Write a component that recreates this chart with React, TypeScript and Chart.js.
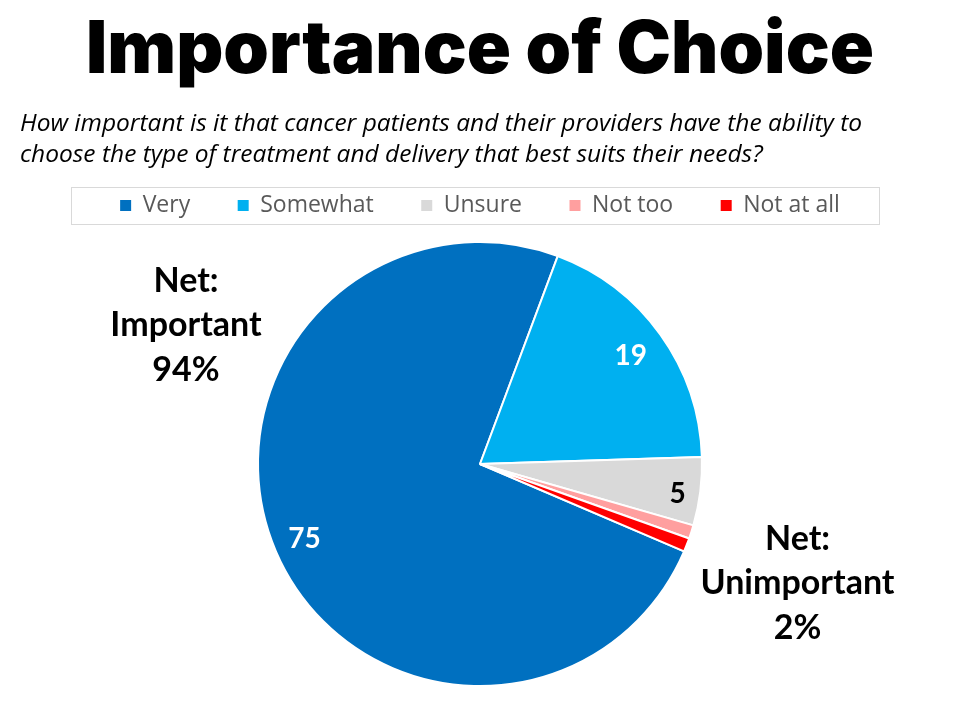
import { useEffect, useRef } from "react";
import { Chart, registerables } from "chart.js";

Chart.register(...registerables);

const categories = ["Very", "Somewhat", "Unsure", "Not too", "Not at all"];
const values = [75, 19, 5, 1, 1];
const sliceColors = ["#0070C0", "#00B0F0", "#D9D9D9", "#FF9F9F", "#FF0000"];
const valueLabelColors = ["#FFFFFF", "#FFFFFF", "#000000", "#000000", "#000000"];
const titleText = "Importance of Choice";
const subtitleLines = [
  "How important is it that cancer patients and their providers have the ability to",
  "choose the type of treatment and delivery that best suits their needs?",
];
const netImportantLines = ["Net:", "Important", "94%"];
const netUnimportantLines = ["Net:", "Unimportant", "2%"];
const minLabelledValue = 5;

const extrasPlugin = {
  id: "pieExtras",
  afterDraw(chart: any) {
    const ctx = chart.ctx;
    // border around legend
    const lg = chart.legend;
    if (lg && lg.legendHitBoxes && lg.legendHitBoxes.length) {
      const hb = lg.legendHitBoxes;
      const first = hb[0];
      const last = hb[hb.length - 1];
      const l = Math.round(first.left - 49);
      const r = Math.round(last.left + last.width + 39);
      const t = Math.round(first.top - 7);
      const b = Math.round(first.top + first.height + 7);
      ctx.save();
      ctx.strokeStyle = "#D9D9D9";
      ctx.lineWidth = 1;
      ctx.strokeRect(l + 0.5, t + 0.5, r - l, b - t);
      ctx.restore();
    }

    const meta = chart.getDatasetMeta(0);
    const radialPos = [0.86, 0.835, 0.9, 0.9, 0.9];
    const angularPos = [0.5, 0.5, 0.58, 0.5, 0.5];
    let cx = 0;
    let cy = 0;
    ctx.save();
    ctx.font = "bold 28px Lato";
    ctx.textAlign = "center";
    ctx.textBaseline = "middle";
    meta.data.forEach((arc: any, i: number) => {
      const p = arc.getProps(["x", "y", "startAngle", "endAngle", "outerRadius"], true);
      cx = p.x;
      cy = p.y;
      if (values[i] < minLabelledValue) return;
      const ang = p.startAngle + (p.endAngle - p.startAngle) * angularPos[i];
      const rr = p.outerRadius * radialPos[i];
      ctx.fillStyle = valueLabelColors[i];
      ctx.fillText(String(values[i]), p.x + Math.cos(ang) * rr, p.y + Math.sin(ang) * rr);
    });

    // net annotations
    ctx.font = "bold 34px Lato";
    ctx.fillStyle = "#000000";
    netImportantLines.forEach((line, i) => {
      ctx.fillText(line, cx - 294, cy - 183 + i * 44.3);
    });
    netUnimportantLines.forEach((line, i) => {
      ctx.fillText(line, cx + 317.5, cy + 75 + i * 44.5);
    });
    ctx.restore();
  },
};

export default function App() {
  const canvasRef = useRef<HTMLCanvasElement | null>(null);

  useEffect(() => {
    document.body.style.margin = "0";
    const canvas = canvasRef.current;
    if (!canvas) return;
    const baseGenerate = (Chart as any).overrides.pie.plugins.legend.labels.generateLabels;
    const chart = new Chart(canvas, {
      type: "pie",
      data: {
        labels: categories,
        datasets: [
          {
            data: values,
            backgroundColor: sliceColors,
            borderColor: "#FFFFFF",
            borderWidth: 2,
            radius: 222,
          } as any,
        ],
      },
      options: {
        animation: false,
        responsive: true,
        maintainAspectRatio: false,
        events: [],
        rotation: 113.17,
        layout: { padding: { left: 20, right: 20, top: 0, bottom: 19 } },
        plugins: {
          title: {
            display: true,
            text: titleText,
            color: "#000000",
            font: { family: "Inter", size: 73, weight: "900", lineHeight: "80px" } as any,
            padding: { top: 11, bottom: 0 },
          },
          subtitle: {
            display: true,
            text: subtitleLines,
            align: "start",
            color: "#000000",
            font: { family: "Open Sans", size: 24.5, style: "italic", lineHeight: "31px" } as any,
            padding: { top: 18, bottom: -24.5 },
          },
          legend: {
            display: true,
            position: "top",
            labels: {
              color: "#595959",
              font: { family: "Open Sans", size: 23 },
              boxWidth: 11,
              boxHeight: 11,
              padding: 47.5,
              generateLabels: (c: any) =>
                baseGenerate(c).map((it: any) => ({ ...it, lineWidth: 0 })),
            },
          },
          tooltip: { enabled: false },
        },
      },
      plugins: [extrasPlugin],
    });
    return () => chart.destroy();
  }, []);

  return (
    <div style={{ position: "relative", width: 960, height: 720 }}>
      <canvas ref={canvasRef} />
    </div>
  );
}
